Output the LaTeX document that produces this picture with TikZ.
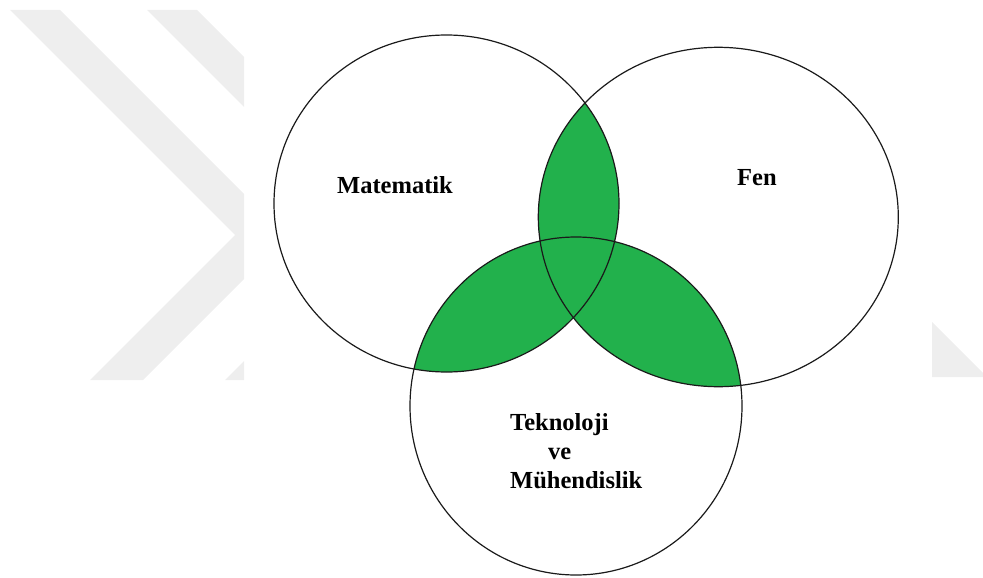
\documentclass[tikz,border=0pt]{standalone}
\usepackage{fontspec}
\setmainfont{Liberation Serif}
\definecolor{venngreen}{HTML}{22B14C}
\definecolor{venninkk}{HTML}{1A1A1A}
\definecolor{markgray}{HTML}{EEEEEE}

\begin{document}
\begin{tikzpicture}[
  x=1pt, y=-1pt,
  ring/.style={draw=venninkk, line width=1.2pt},
  lens/.style={fill=venngreen},
  markshape/.style={fill=markgray, draw=none},
  subject/.style={font=\rmfamily\bfseries\fontsize{24.5}{29}\selectfont,
    text=black, inner sep=0pt},
]
\useasboundingbox (0,0) rectangle (983,578);

% ===== background mark =====
\fill[markshape] (10,10) -- (60,10) -- (244,194) -- (244,279) -- (143,380)
  -- (90,380) -- (235,235) -- cycle;
\fill[markshape] (147,10) -- (197,10) -- (244,57) -- (244,107) -- cycle;
\fill[markshape] (225,380) -- (244,361) -- (244,380) -- cycle;
\fill[markshape] (932,322) -- (983,373) -- (983,377) -- (932,377) -- cycle;

% ===== centres =====
\coordinate (mat) at (446.5,203.5);
\coordinate (fen) at (718.3,217);
\coordinate (tek) at (576,406);

% ===== overlaps =====
\begin{scope}
  \clip (mat) ellipse [x radius=172.5, y radius=168.5];
  \fill[lens] (fen) ellipse [x radius=180, y radius=169.7];
  \fill[lens] (tek) ellipse [x radius=166, y radius=169];
\end{scope}
\begin{scope}
  \clip (fen) ellipse [x radius=180, y radius=169.7];
  \fill[lens] (tek) ellipse [x radius=166, y radius=169];
\end{scope}

% ===== circles =====
\draw[ring] (mat) ellipse [x radius=172.5, y radius=168.5];
\draw[ring] (fen) ellipse [x radius=180, y radius=169.7];
\draw[ring] (tek) ellipse [x radius=166, y radius=169];

% ===== labels =====
\node[subject, anchor=base west] (matlabel) at (337,193) {Matematik};
\node[subject, anchor=base west] (fenlabel) at (737,185) {Fen};
\node[subject, anchor=north west, align=left] (teklabel) at (510,413)
  {Teknoloji\\\hspace{38pt}ve\\Mühendislik};

\end{tikzpicture}
\end{document}
